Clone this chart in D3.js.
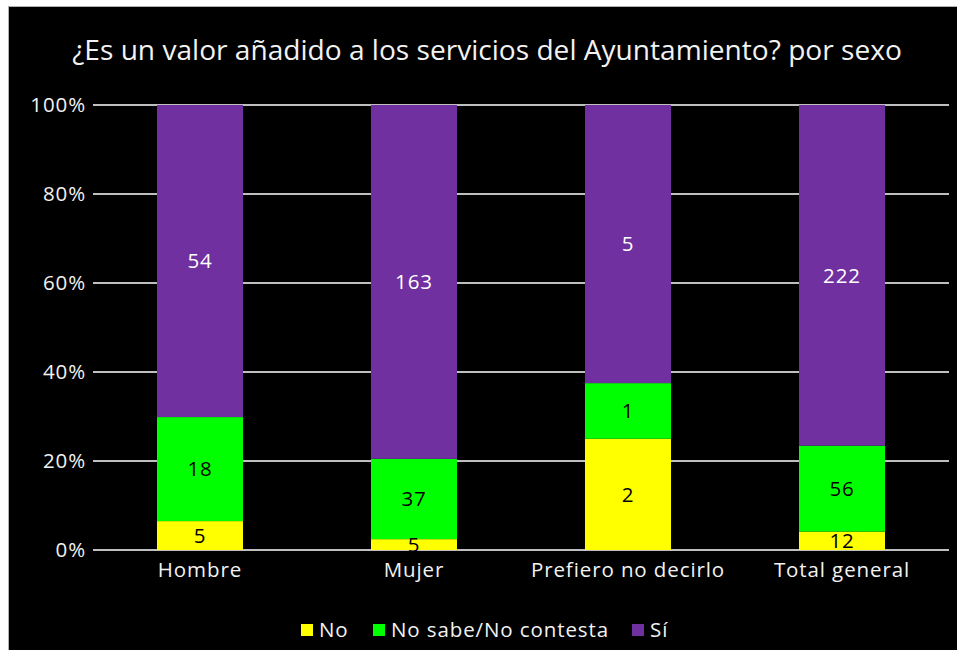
<!DOCTYPE html>
<html><head><meta charset="utf-8">
<script src="https://cdn.jsdelivr.net/npm/d3@7"></script>
<style>html,body{margin:0;padding:0;background:#fff;}svg{display:block;}</style>
</head><body>
<script>
const title = "¿Es un valor añadido a los servicios del Ayuntamiento? por sexo";
const categories = ["Hombre", "Mujer", "Prefiero no decirlo", "Total general"];
const seriesNames = ["No", "No sabe/No contesta", "Sí"];
const valuesNo = [5, 5, 2, 12];
const valuesNsnc = [18, 37, 1, 56];
const valuesSi = [54, 163, 5, 222];
const colors = ["#FFFF00", "#00FF00", "#7030A0"];
const yTicks = [0, 0.2, 0.4, 0.6, 0.8, 1.0];

const W = 957, H = 650;
const FONT = "'Open Sans', 'Noto Sans', sans-serif";
const FS = 20.5, LS = 0.9;
const svg = d3.select("body").append("svg").attr("width", W).attr("height", H);
svg.append("rect").attr("x", 0).attr("y", 0).attr("width", W).attr("height", H).attr("fill", "#fff");
svg.append("rect").attr("x", 8.5).attr("y", 6.5).attr("width", W - 8).attr("height", H - 6)
  .attr("fill", "#000").attr("stroke", "#b0b0b0").attr("stroke-width", 1);

const x = d3.scaleBand().domain(categories).range([93, 949]).paddingInner(0.598).paddingOuter(0.299);
const y = d3.scaleLinear().domain([0, 1]).range([550, 105]);

function txt(sel) {
  return sel.attr("font-family", FONT).attr("font-size", FS).attr("letter-spacing", LS);
}

// title
const t = svg.append("text").attr("x", 487).attr("y", 60).attr("text-anchor", "middle")
  .attr("fill", "#f2f2f2").attr("font-family", FONT).attr("font-size", 22).text(title);
const tw = t.node().getComputedTextLength();
t.attr("font-size", 22 * 830 / tw);

// grid
svg.append("g").selectAll("line").data(yTicks).join("line")
  .attr("x1", 93).attr("x2", 949).attr("y1", d => y(d)).attr("y2", d => y(d))
  .attr("stroke", "#bfbfbf").attr("stroke-width", 2);

// y labels
txt(svg.append("g").selectAll("text").data(yTicks).join("text")
  .attr("x", 86).attr("y", d => y(d)).attr("dy", "0.35em").attr("text-anchor", "end")
  .attr("fill", "#f2f2f2"))
  .text(d => d3.format(".0%")(d));

// stack
const rows = categories.map((c, i) => {
  const tot = valuesNo[i] + valuesNsnc[i] + valuesSi[i];
  return {cat: c, vals: [valuesNo[i], valuesNsnc[i], valuesSi[i]], tot};
});
const segs = [];
rows.forEach(r => {
  let acc = 0;
  r.vals.forEach((v, k) => {
    segs.push({cat: r.cat, k, v, y0: acc / r.tot, y1: (acc + v) / r.tot});
    acc += v;
  });
});
svg.append("g").selectAll("rect").data(segs).join("rect")
  .attr("x", d => x(d.cat)).attr("width", x.bandwidth())
  .attr("y", d => y(d.y1)).attr("height", d => y(d.y0) - y(d.y1))
  .attr("fill", d => colors[d.k]);

txt(svg.append("g").selectAll("text").data(segs).join("text")
  .attr("x", d => x(d.cat) + x.bandwidth() / 2)
  .attr("y", d => y((d.y0 + d.y1) / 2)).attr("dy", "0.35em")
  .attr("text-anchor", "middle").attr("fill", d => d.k === 2 ? "#ffffff" : "#000"))
  .text(d => d.v);

// x labels
txt(svg.append("g").selectAll("text").data(categories).join("text")
  .attr("x", d => x(d) + x.bandwidth() / 2).attr("y", 577)
  .attr("text-anchor", "middle").attr("fill", "#f2f2f2"))
  .text(d => d);

// legend
const legX = [301, 373, 632];
const lg = svg.append("g").selectAll("g").data(seriesNames).join("g")
  .attr("transform", (d, i) => `translate(${legX[i]},624)`);
lg.append("rect").attr("width", 12).attr("height", 12).attr("fill", (d, i) => colors[i]);
txt(lg.append("text").attr("x", 18).attr("y", 6).attr("dy", "0.35em").attr("fill", "#f2f2f2"))
  .text(d => d);
</script>
</body></html>
